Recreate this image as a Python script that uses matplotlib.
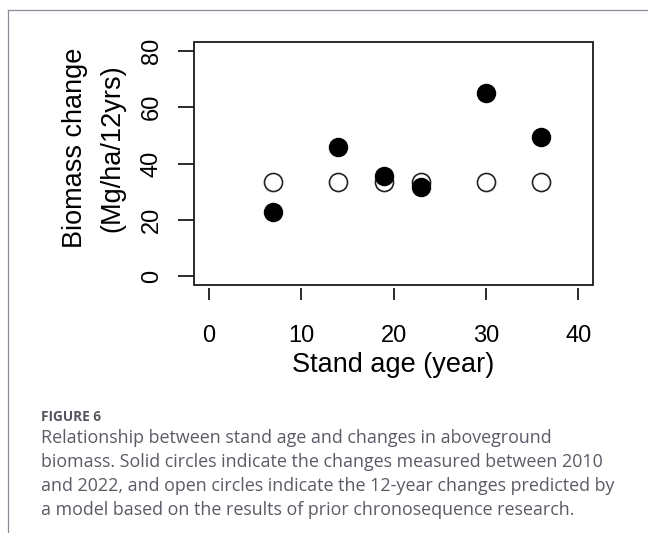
import matplotlib
matplotlib.use("Agg")
import matplotlib.pyplot as plt
from matplotlib.lines import Line2D
from matplotlib.patches import Rectangle

# Stand age (years) and 12-year biomass change (Mg/ha)
stand_age = [7, 14, 19, 23, 30, 36]
measured  = [22.6, 45.8, 35.7, 31.5, 64.9, 49.4]   # 2010 -> 2022, solid
predicted = [33.3, 33.3, 33.3, 33.3, 33.3, 33.3]   # chronosequence model, open

xticks = [0, 10, 20, 30, 40]
yticks = [0, 20, 40, 60, 80]

caption_head = "FIGURE 6"
caption_lines = [
    "Relationship between stand age and changes in aboveground",
    "biomass. Solid circles indicate the changes measured between 2010",
    "and 2022, and open circles indicate the 12-year changes predicted by",
    "a model based on the results of prior chronosequence research.",
]

W, H = 648, 533
fig = plt.figure(figsize=(W / 100, H / 100), dpi=100)
fig.patch.set_facecolor("white")

# page frame (top + left edge only)
fc = "#8c8c99"
fig.add_artist(Line2D([8 / W, 1], [1 - 10 / H, 1 - 10 / H], color=fc, lw=0.9))
fig.add_artist(Line2D([8 / W, 8 / W], [0, 1 - 10 / H], color=fc, lw=0.9))

ax = fig.add_axes([194 / W, 1 - 285 / H, (593 - 194) / W, (285 - 42) / H])
ax.set_xlim(-1.6, 41.6)
ax.set_ylim(-3.2, 83.2)

ax.plot(stand_age, predicted, "o", ms=13, mfc="white", mec="#222222", mew=1.2,
        zorder=3)
ax.plot(stand_age, measured, "o", ms=13, mfc="black", mec="black", mew=1.0,
        zorder=4)

# R-style box with detached x ticks
for s in ax.spines.values():
    s.set_visible(False)
ax.spines["bottom"].set_position(("outward", 2.5))
ax.add_patch(Rectangle((0, 0), 1, 1, transform=ax.transAxes, fill=False,
                       ec="#1a1a1a", lw=1.3, clip_on=False, zorder=5))

tick_font = dict(family=["Liberation Sans", "DejaVu Sans"], size=17)
ax.set_xticks(xticks)
ax.set_xticklabels([str(v) for v in xticks], fontdict=tick_font)
ax.set_yticks(yticks)
ax.set_yticklabels([str(v) for v in yticks], fontdict=tick_font,
                   rotation=90, va="center")
ax.tick_params(axis="x", length=8.6, width=1.3, color="#1a1a1a", pad=17.5)
ax.tick_params(axis="y", length=11.5, width=1.3, color="#1a1a1a", pad=11)

lab_font = dict(family=["Liberation Sans", "DejaVu Sans"], size=19.5,
                color="black")
fig.text(393 / W, 1 - 372 / H, "Stand age (year)", ha="center",
         va="baseline", **lab_font)
fig.text(75 / W, 1 - 148 / H, "Biomass change", ha="center", va="center",
         rotation=90, **lab_font)
fig.text(112 / W, 1 - 148 / H, "(Mg/ha/12yrs)", ha="center", va="center",
         rotation=90, **lab_font)

# caption
cap_col = "#5b5b66"
fig.text(41 / W, 1 - 421 / H, caption_head, ha="left", va="baseline",
         family=["Open Sans", "DejaVu Sans"], fontweight="bold", size=9.8,
         color="#55555f")
for i, line in enumerate(caption_lines):
    fig.text(41 / W, 1 - (443 + 24 * i) / H, line, ha="left", va="baseline",
             family=["Open Sans", "DejaVu Sans"], size=12.9, color=cap_col)

fig.savefig("out.png", dpi=100, facecolor="white")
